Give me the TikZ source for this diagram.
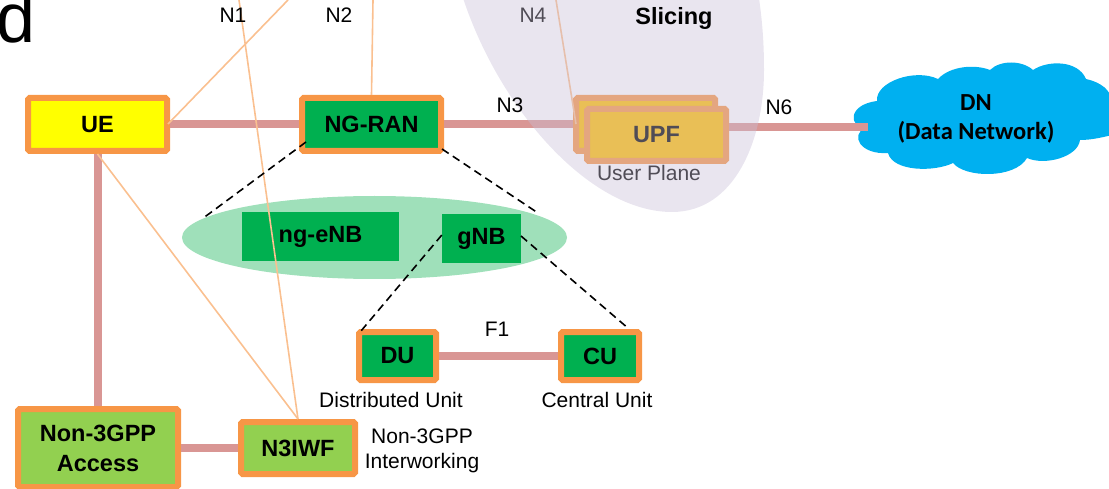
\documentclass[tikz,border=0pt]{standalone}
\usepackage{fontspec}
\setmainfont{Liberation Sans}
\newfontfamily\cloudfont{Carlito}
\usetikzlibrary{shapes.geometric}
\definecolor{orangeb}{HTML}{F79646}
\definecolor{pinkl}{HTML}{D99694}
\definecolor{peachl}{HTML}{FAC090}
\definecolor{greenb}{HTML}{00B050}
\definecolor{limeb}{HTML}{92D050}
\definecolor{greenell}{HTML}{9FE0BA}
\definecolor{cloudb}{HTML}{00B0F0}
\definecolor{sliceg}{RGB}{200,190,215}
\definecolor{upfy}{HTML}{FFC000}
\definecolor{uey}{HTML}{FFFF00}
\tikzset{
  boxa/.style={draw=orangeb,line width=6pt,rounded corners=1.5pt,inner sep=0pt,align=center,
    font=\fontsize{23.5}{30}\selectfont\bfseries},
  plainbox/.style={fill=greenb,inner sep=0pt,font=\fontsize{23.5}{28}\selectfont\bfseries},
  lab/.style={inner sep=0pt,align=center,font=\fontsize{21}{25}\selectfont},
  pinkln/.style={draw=pinkl,line width=8pt},
  peachln/.style={draw=peachl,line width=1.6pt},
  dashln/.style={draw=black,line width=1.6pt,dash pattern=on 8pt off 5pt},
}
\begin{document}
\begin{tikzpicture}[x=1pt,y=-1pt]
\useasboundingbox (0,0) rectangle (1109,489);
% big letter cut by the page
\node[anchor=base west,inner sep=0pt,font=\fontsize{70}{70}\selectfont] (bigd) at (-4,43) {d};
% green ellipse
\node[ellipse,fill=greenell,minimum width=385pt,minimum height=83pt,inner sep=0pt] (ranell) at (374.5,237.5) {};
% cloud
\fill[cloudb] (865,128) .. controls (850,128) and (846,105) .. (877,101)
  .. controls (875,82) and (915,68) .. (938,79)
  .. controls (950,66) and (975,64) .. (990,70)
  .. controls (1000,60) and (1022,60) .. (1033,70)
  .. controls (1048,60) and (1078,60) .. (1086,79)
  .. controls (1100,82) and (1112,90) .. (1112,103)
  -- (1112,135) .. controls (1100,138) and (1090,140) .. (1080,140)
  .. controls (1078,157) and (1045,166) .. (1027,158)
  .. controls (1015,179) and (965,178) .. (953,163)
  .. controls (935,172) and (893,172) .. (888,153)
  .. controls (860,155) and (850,135) .. (865,128) -- cycle;
% boxes
\node[boxa,fill=uey,minimum width=139pt,minimum height=53pt] (ue) at (97.5,124.5) {UE};
\node[boxa,fill=greenb,minimum width=139pt,minimum height=53pt] (ran) at (371.5,124.5) {NG-RAN};
\node[boxa,fill=greenb,minimum width=77pt,minimum height=48pt] (du) at (397.5,356) {DU};
\node[boxa,fill=greenb,minimum width=78pt,minimum height=48pt] (cu) at (600,356) {CU};
\node[boxa,fill=limeb,minimum width=160pt,minimum height=78pt] (n3gpp) at (98,448) {Non-3GPP\\Access};
\node[boxa,fill=limeb,minimum width=114pt,minimum height=52pt] (n3iwf) at (298,448) {N3IWF};
\node[plainbox,minimum width=157pt,minimum height=49pt] (enb) at (320.5,236.5) {ng-eNB};
\node[plainbox,minimum width=79pt,minimum height=49pt] (gnb) at (481.5,238.5) {gNB};
\node[boxa,fill=upfy,minimum width=139pt,minimum height=53pt] (upfb) at (645.5,124.5) {};
\node[boxa,fill=upfy,minimum width=139pt,minimum height=52pt] (upf) at (656.5,135) {UPF};
% free ends
\coordinate (cloudend) at (868,127);
\coordinate (topa) at (288,0);
\coordinate (topb) at (239,0);
\coordinate (topc) at (373,0);
\coordinate (topd) at (556,0);
\coordinate (ell1) at (202,219);
\coordinate (ell2) at (538,213);
\coordinate (duend) at (361,331);
\coordinate (cuend) at (629,329);
\coordinate (ranbl) at (306,142);
\coordinate (ranbr) at (442,149);
\coordinate (gnbr) at (521,236);
\coordinate (uer) at (168,124);
\coordinate (upfbl) at (576,124);
% pink links
\draw[pinkln] (ue.east) -- (ran.west);
\draw[pinkln] (ran.east) -- (upfb.west);
\draw[pinkln] (upf.east |- cloudend) -- (cloudend);
\draw[pinkln] (ue.south) -- (ue.south |- n3gpp.north);
\draw[pinkln] (n3gpp.east) -- (n3iwf.west);
\draw[pinkln] (du.east) -- (cu.west);
% peach lines
\draw[peachln] (uer) -- (topa);
\draw[peachln] (ue.south) -- (n3iwf.north);
\draw[peachln] (topb) -- (n3iwf.north);
\draw[peachln] (topc) -- (ran.north);
\draw[peachln] (topd) -- (upfbl);
% dashed
\draw[dashln] (ranbl) -- (ell1);
\draw[dashln] (ranbr) -- (ell2);
\draw[dashln] (gnb.175) -- (duend);
\draw[dashln] (gnbr) -- (cuend);
% labels under the slice
\node[lab] (n4) at (533,15) {N4};
\node[lab] (uplane) at (649,173) {User Plane};
% slice overlay
\fill[sliceg,opacity=.4] (463,-2) .. controls (500,110) and (590,212) .. (672,212)
  .. controls (735,212) and (764,140) .. (764,70) .. controls (764,40) and (762,20) .. (759,-2) -- cycle;
\node[inner sep=0pt,font=\fontsize{23.5}{28}\selectfont\bfseries] (slicing) at (674,18) {Slicing};
% labels
\node[lab] (n1) at (233,15) {N1};
\node[lab] (n2) at (339,15) {N2};
\node[lab] (n3) at (510,105) {N3};
\node[lab] (n6) at (779,107) {N6};
\node[lab] (f1) at (497,329) {F1};
\node[lab] (dulab) at (391,400) {Distributed Unit};
\node[lab] (culab) at (597,400) {Central Unit};
\node[lab] (n3lab) at (422,451) {Non-3GPP\\Interworking};
\node[inner sep=0pt,align=center,font=\fontsize{24.5}{29}\cloudfont\bfseries] (dn) at (976,119) {DN\\(Data Network)};
\end{tikzpicture}
\end{document}
